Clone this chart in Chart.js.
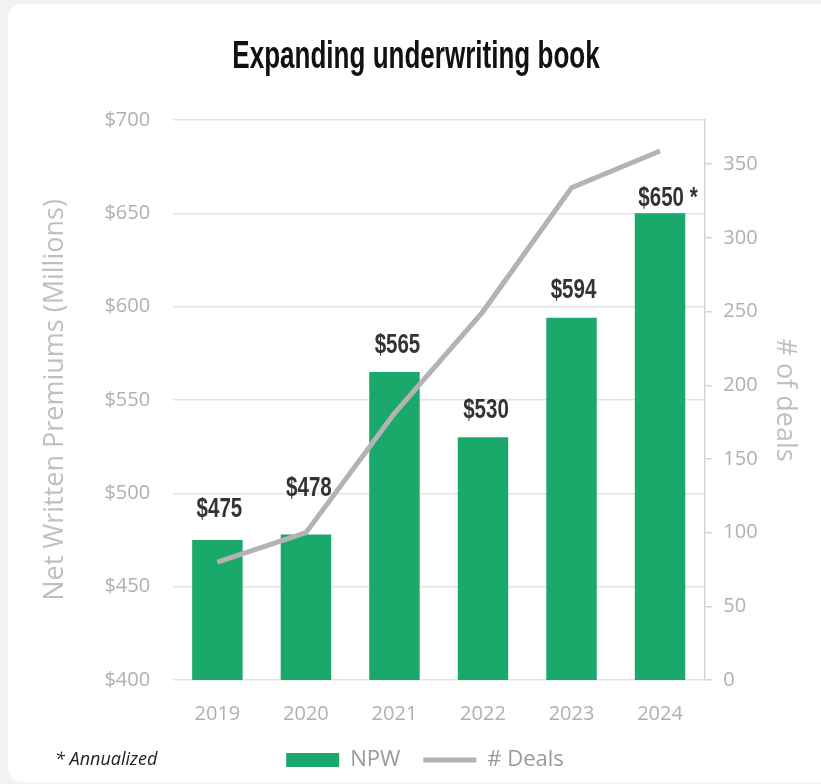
<!DOCTYPE html>
<html>
<head>
<meta charset="utf-8">
<title>Expanding underwriting book</title>
<script src="https://cdn.jsdelivr.net/npm/chart.js@4.4.1/dist/chart.umd.min.js"></script>
<style>
  html, body { margin: 0; padding: 0; background: #f2f2f2; overflow: hidden; }
  #card {
    position: absolute; left: 8px; top: 4px; width: 840px; height: 778px;
    background: #fff; border-radius: 14px;
  }
  #popChart { position: absolute; left: 0; top: 0; }
  #nota {
    position: absolute; left: 55px; top: 746px;
    font: italic 18px "Open Sans", sans-serif; color: #222;
  }
</style>
</head>
<body>
<div id="card"></div>
<canvas id="popChart" width="821" height="784"></canvas>
<div id="nota">* Annualized</div>
<script>
// datos del grafico
var anios = ["2019", "2020", "2021", "2022", "2023", "2024"];
var npw = [475, 478, 565, 530, 594, 650];
var deals = [80, 100, 181, 250, 334, 359];
var anualizado = [false, false, false, false, false, true];
var titulo = "Expanding underwriting book";

var gris = "#b3b3b3";
var verde = "#1ba86b";

// texto angosto: fuente bold comprimida en horizontal
function textoAngosto(ctx, texto, x, y, size, escala) {
  ctx.save();
  ctx.font = "bold " + size + "px 'Liberation Sans', Arial, sans-serif";
  ctx.textAlign = "center";
  ctx.textBaseline = "middle";
  ctx.translate(x, y);
  ctx.scale(escala, 1);
  ctx.fillText(texto, 0, 0);
  ctx.restore();
}

// titulo y etiquetas con el valor encima de cada barra
var etiquetasBarras = {
  id: "etiquetasBarras",
  afterDatasetsDraw: function(chart, args, opts) {
    var ctx = chart.ctx;
    var meta = chart.getDatasetMeta(0);
    ctx.fillStyle = "#111";
    textoAngosto(ctx, titulo, opts.tituloX, opts.tituloY, 38, 0.685);
    ctx.fillStyle = "#333";
    meta.data.forEach(function(bar, i) {
      var texto = "$" + npw[i] + (anualizado[i] ? " *" : "");
      var dx = anualizado[i] ? 8 : 0;
      textoAngosto(ctx, texto, bar.x + dx + opts.dx[i], bar.y - opts.lift[i], 27, 0.76);
    });
  }
};

var popCanvas = document.getElementById("popChart").getContext("2d");
var barChart = new Chart(popCanvas, {
  type: "bar",
  data: {
    labels: anios,
    datasets: [{
      label: "NPW",
      data: npw,
      backgroundColor: verde,
      yAxisID: "y",
      categoryPercentage: 1,
      barPercentage: 0.57,
      order: 1
    }, {
      type: "line",
      label: "# Deals",
      data: deals,
      borderColor: gris,
      backgroundColor: gris,
      borderWidth: 5,
      pointRadius: 0,
      tension: 0,
      yAxisID: "y1",
      order: 0
    }]
  },
  options: {
    responsive: false,
    animation: false,
    layout: { padding: { left: 35, right: 6, top: 120, bottom: 3 } },
    plugins: {
      title: { display: false },
      legend: {
        position: "bottom",
        labels: {
          usePointStyle: true,
          pointStyleWidth: 53,
          boxHeight: 14,
          padding: 23,
          color: "#9a9a9a",
          font: { family: "'Open Sans', sans-serif", size: 22 },
          sort: function(a, b) { return a.datasetIndex - b.datasetIndex; },
          generateLabels: function(chart) {
            var items = Chart.defaults.plugins.legend.labels.generateLabels(chart);
            items.forEach(function(it) {
              it.pointStyle = it.datasetIndex === 0 ? "rect" : "line";
            });
            return items;
          }
        }
      },
      tooltip: { enabled: false },
      etiquetasBarras: {
        tituloX: 416,
        tituloY: 58,
        lift: [30, 46, 26, 27, 27, 15],
        dx: [2, 3, 3, 3, 2, 0]
      }
    },
    scales: {
      x: {
        grid: { display: false, drawTicks: false },
        border: { display: false },
        afterFit: function(scale) { scale.height = 46; },
        ticks: {
          padding: 22,
          color: "#b0b0b0",
          font: { family: "'Open Sans', sans-serif", size: 20 }
        }
      },
      y: {
        position: "left",
        min: 400,
        max: 700,
        grid: { color: "#e3e3e3", lineWidth: 1.5, drawTicks: false },
        border: { display: false },
        ticks: {
          stepSize: 50,
          padding: 23,
          color: "#b0b0b0",
          font: { family: "'Open Sans', sans-serif", size: 20 },
          callback: function(v) { return "$" + v; }
        },
        title: {
          display: true,
          text: "Net Written Premiums (Millions)",
          color: "#c0c0c0",
          font: { family: "'Open Sans', sans-serif", size: 27 },
          padding: { top: 4, bottom: 10 }
        }
      },
      y1: {
        position: "right",
        min: 0,
        max: 380,
        afterBuildTicks: function(axis) {
          axis.ticks = axis.ticks.filter(function(t) { return t.value % 50 === 0; });
        },
        grid: { drawOnChartArea: false, color: "#d4d4d4", tickLength: 8, lineWidth: 1.5 },
        border: { display: true, color: "#d4d4d4", width: 1.5 },
        ticks: {
          stepSize: 50,
          padding: 11,
          color: "#b0b0b0",
          font: { family: "'Open Sans', sans-serif", size: 20 }
        },
        title: {
          display: true,
          text: "# of deals",
          color: "#c0c0c0",
          font: { family: "'Open Sans', sans-serif", size: 27 },
          padding: { top: 14, bottom: 0 }
        }
      }
    }
  },
  plugins: [etiquetasBarras]
});
</script>
</body>
</html>
